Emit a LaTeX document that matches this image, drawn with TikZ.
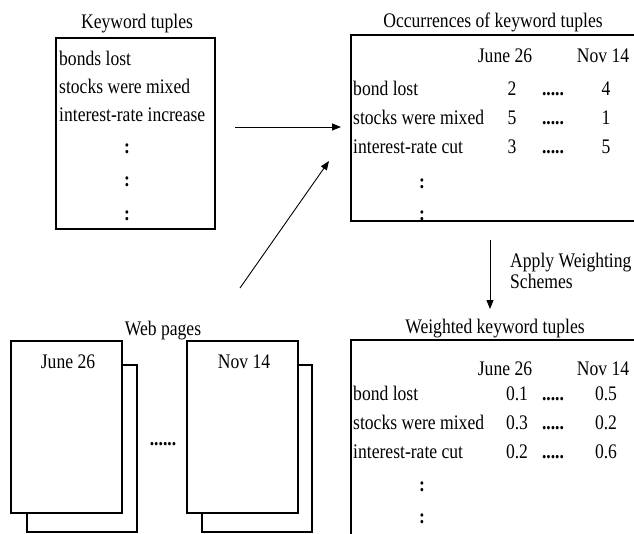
\documentclass[tikz,border=0pt]{standalone}
\usepackage{fontspec}
\setmainfont{Liberation Serif}[FakeStretch=0.85]
\usetikzlibrary{arrows.meta}
\begin{document}
\begin{tikzpicture}[x=1pt,y=-1pt,
    font=\fontsize{20.7}{24}\selectfont,
    box/.style={draw,line width=1.1pt,inner sep=0pt},
    page/.style={draw,fill=white,line width=1.1pt},
    lft/.style={inner sep=0pt,anchor=base west},
    ctr/.style={inner sep=0pt,anchor=base},
    vdots/.style={inner sep=0pt,anchor=base,font=\fontsize{20.7}{24}\selectfont\bfseries},
    arr/.style={-{Triangle[length=9pt,width=7pt]},line width=0.9pt}]
  \useasboundingbox (0,0) rectangle (634,533);
  \clip (0,0) rectangle (634,533);
  % keyword tuples
  \node[ctr] (kwtitle) at (137,28) {Keyword tuples};
  \node[box,minimum width=159pt,minimum height=191pt] (kwbox) at (135.5,133.5) {};
  \node[lft] (kw1) at (59,65) {bonds lost};
  \node[lft] (kw2) at (59,93) {stocks were mixed};
  \node[lft] (kw3) at (59,121) {interest-rate increase};
  \node[vdots] (kwd1) at (127,153) {:};
  \node[vdots] (kwd2) at (127,186) {:};
  \node[vdots] (kwd3) at (127,220) {:};
  % occurrences
  \node[ctr] (occtitle) at (493,27) {Occurrences of keyword tuples};
  \node[box,minimum width=294pt,minimum height=186pt] (occbox) at (498,128) {};
  \node[ctr] (occh1) at (505,62) {June 26};
  \node[ctr] (occh2) at (603,62) {Nov 14};
  \node[lft] (occr1) at (353,95) {bond lost};
  \node[lft] (occr2) at (353,124) {stocks were mixed};
  \node[lft] (occr3) at (353,153) {interest-rate cut};
  \node[ctr] (occa1) at (512,95) {2};
  \node[ctr] (occa2) at (512,124) {5};
  \node[ctr] (occa3) at (512,153) {3};
  \node[ctr] (occm1) at (553,95) {\textbf{.....}};
  \node[ctr] (occm2) at (553,124) {\textbf{.....}};
  \node[ctr] (occm3) at (553,153) {\textbf{.....}};
  \node[ctr] (occb1) at (606,95) {4};
  \node[ctr] (occb2) at (606,124) {1};
  \node[ctr] (occb3) at (606,153) {5};
  \node[vdots] (occd1) at (422,188) {:};
  \node[vdots] (occd2) at (422,220) {:};
  % weighted
  \node[ctr] (wtitle) at (495,333) {Weighted keyword tuples};
  \node[box,minimum width=294pt,minimum height=210pt] (wbox) at (498,445) {};
  \node[ctr] (wh1) at (505,375) {June 26};
  \node[ctr] (wh2) at (603,375) {Nov 14};
  \node[lft] (wr1) at (353,400) {bond lost};
  \node[lft] (wr2) at (353,429) {stocks were mixed};
  \node[lft] (wr3) at (353,458) {interest-rate cut};
  \node[ctr] (wa1) at (517,400) {0.1};
  \node[ctr] (wa2) at (517,429) {0.3};
  \node[ctr] (wa3) at (517,458) {0.2};
  \node[ctr] (wm1) at (553,400) {\textbf{.....}};
  \node[ctr] (wm2) at (553,429) {\textbf{.....}};
  \node[ctr] (wm3) at (553,458) {\textbf{.....}};
  \node[ctr] (wb1) at (606,400) {0.5};
  \node[ctr] (wb2) at (606,429) {0.2};
  \node[ctr] (wb3) at (606,458) {0.6};
  \node[vdots] (wd1) at (422,491) {:};
  \node[vdots] (wd2) at (422,523) {:};
  % web pages
  \node[ctr] (webtitle) at (163,335) {Web pages};
  \draw[line width=1.1pt] (27,365) rectangle (137,532);
  \node[page,minimum width=111pt,minimum height=172pt] (page1) at (66.5,427) {};
  \node[ctr] (page1lbl) at (68,368) {June 26};
  \draw[line width=1.1pt] (202,365) rectangle (312,532);
  \node[page,minimum width=111pt,minimum height=172pt] (page2) at (242.5,427) {};
  \node[ctr] (page2lbl) at (244,368) {Nov 14};
  \node[ctr] (webdots) at (163,445) {\textbf{......}};
  % arrows
  \coordinate (h1) at (235,127);
  \coordinate (h2) at (341,127);
  \coordinate (d1) at (240,288);
  \coordinate (d2) at (329,161);
  \coordinate (v1) at (490,240);
  \coordinate (v2) at (490,309);
  \draw[arr] (h1) -- (h2);
  \draw[arr] (d1) -- (d2);
  \draw[arr] (v1) -- (v2);
  \node[lft] (apply1) at (510,267) {Apply Weighting};
  \node[lft] (apply2) at (510,288) {Schemes};
\end{tikzpicture}
\end{document}
